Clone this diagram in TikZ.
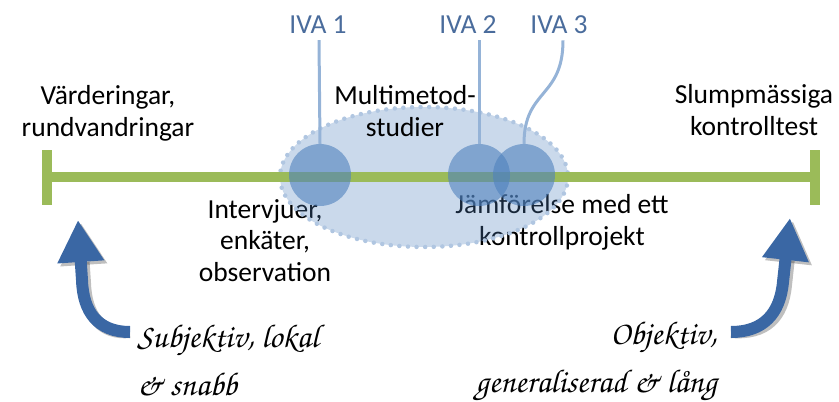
\documentclass[tikz,border=0pt]{standalone}
\usepackage[T1]{fontenc}
\usepackage{fontspec}
\setmainfont{Carlito}
\usetikzlibrary{arrows.meta}
\definecolor{scalegreen}{HTML}{9BBB59}
\definecolor{ivablue}{HTML}{4F81BD}
\definecolor{ivaline}{HTML}{95B3D7}
\definecolor{ivatext}{HTML}{4A6C9C}
\definecolor{arrowblue}{HTML}{3A67A4}
\newcommand{\handfont}{\usefont{T1}{pzc}{mb}{it}}

\begin{document}
\begin{tikzpicture}[x=1pt,y=-1pt,
    label/.style={font=\fontsize{27.5}{31.5}\selectfont, inner sep=0pt, anchor=base, align=center},
    ivalabel/.style={label, text=ivatext},
    hand/.style={font=\handfont\fontsize{33}{48}\selectfont, inner sep=0pt},
    ivacircle/.style={circle, inner sep=0pt, minimum size=62pt, fill=ivablue, fill opacity=0.6},
    ivaconn/.style={draw=ivaline, line width=3pt},
    scaleline/.style={draw=scalegreen, line width=10pt},
    bigarrow/.style={draw=arrowblue, line width=12pt, -{Triangle[width=44pt,length=42pt]}},
    arrowshadow/.style={draw=black, opacity=0.25, line width=12pt, -{Triangle[width=44pt,length=42pt]}}]
\useasboundingbox (0,0) rectangle (839,402);

%Texte unter der Skala (base = letzte Zeile)
    \node (intervju) at (265,281)
        [label]
        {Intervjuer,\\enkäter,\\observation};
    \node (jamfor) at (562,245)
        [label]
        {Jämförelse med ett\\kontrollprojekt};

%Multimetod-Wolke
    \fill[ivablue, fill opacity=0.3] (424,177) ellipse [x radius=144, y radius=70];
    \draw[ivablue!45, line width=4.5pt, line cap=round, dash pattern=on 0pt off 8.6pt]
        (424,177) ellipse [x radius=144, y radius=70];

%Skala
    \coordinate (left) at (47,177);
    \coordinate (right) at (815,177);
    \draw[scaleline] (left) -- (right);
    \draw[scaleline] ([yshift=27]left) -- ([yshift=-28]left);
    \draw[scaleline] ([yshift=27]right) -- ([yshift=-28]right);

%IVA-Kreise
    \node (c1) at (320,175) [ivacircle] {};
    \node (c2) at (479,175) [ivacircle] {};
    \node (c3) at (524,175) [ivacircle] {};
    \node (iva1) at (318,33)
        [ivalabel]
        {IVA 1};
    \node (iva2) at (468,33)
        [ivalabel]
        {IVA 2};
    \node (iva3) at (559,33)
        [ivalabel]
        {IVA 3};
    \draw[ivaconn] ([xshift=1,yshift=-7]iva1.south) -- (c1.north);
    \draw[ivaconn] ([xshift=11,yshift=-7]iva2.south) -- (c2.north);
    \draw[ivaconn] ([xshift=4,yshift=-7]iva3.south)
        .. controls ([xshift=4,yshift=-65]iva3.south) and ([yshift=55]c3.north) .. (c3.north);

%Texte ueber der Skala
    \node (varde) at (108,136)
        [label]
        {Värderingar,\\rundvandringar};
    \node (multi) at (405,136)
        [label]
        {Multimetod-\\studier};
    \node (slump) at (754,135)
        [label]
        {Slumpmässiga\\kontrolltest};

%Pfeile
    \coordinate (subj) at (130,332);
    \coordinate (obj) at (731,332);
    \draw[arrowshadow, shift={(3,3)}] (subj) .. controls (98,332) and (83,312) .. (82,280) -- (78,220);
    \draw[arrowshadow, shift={(3,3)}] (obj) .. controls (763,332) and (780,314) .. (783,282) -- (790,218);
    \draw[bigarrow] (subj) .. controls (98,332) and (83,312) .. (82,280) -- (78,220);
    \draw[bigarrow] (obj) .. controls (763,332) and (780,314) .. (783,282) -- (790,218);
    \node (subjtext) at (137,395)
        [hand, anchor=base west, align=left]
        {Subjektiv, lokal\\\& snabb};
    \node (objtext) at (717,392)
        [hand, anchor=base east, align=right]
        {Objektiv,\\generaliserad \& lång};

\end{tikzpicture}
\end{document}
